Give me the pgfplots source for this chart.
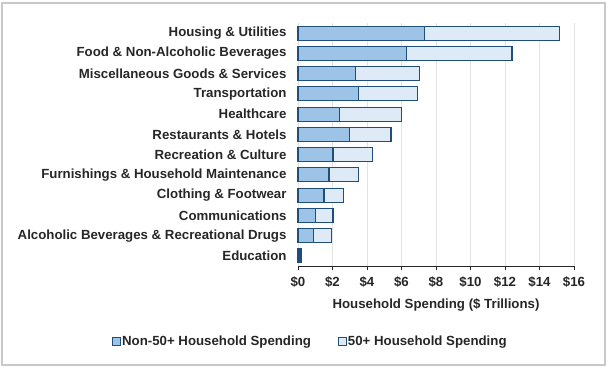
\documentclass[border=0pt]{standalone}
\usepackage{pgfplots}
\pgfplotsset{compat=1.18}
\usepackage{fontspec}
\setmainfont{Liberation Sans}
\definecolor{nonfifty}{HTML}{9DC3E6}
\definecolor{fifty}{HTML}{DEEBF7}
\definecolor{edge}{HTML}{1F4E79}
\definecolor{gridc}{HTML}{E3E3E3}
\definecolor{framec}{HTML}{C8C8C8}
\begin{document}
\begin{tikzpicture}[x=1bp,y=1bp]
\begin{axis}[
  scale only axis,
  width=276bp, height=243bp,
  xbar stacked,
  bar width=14bp,
  xmin=0, xmax=16,
  ymin=-0.5, ymax=11.5,
  y dir=reverse,
  ytick={0,...,11},
  yticklabels={Housing \& Utilities, Food \& Non-Alcoholic Beverages, Miscellaneous Goods \& Services, Transportation, Healthcare, Restaurants \& Hotels, Recreation \& Culture, Furnishings \& Household Maintenance, Clothing \& Footwear, Communications, Alcoholic Beverages \& Recreational Drugs, Education},
  xtick={0,2,...,16},
  xticklabels={\$0,\$2,\$4,\$6,\$8,\$10,\$12,\$14,\$16},
  axis y line*=none,
  axis x line*=bottom,
  axis line style={black!85, line width=0.9bp},
  y axis line style={draw=none},
  ytick style={draw=none},
  xtick style={black!85, line width=0.9bp},
  tick align=outside,
  major tick length=4bp,
  xmajorgrids,
  grid style={gridc, line width=0.8bp},
  ticklabel style={font=\bfseries\fontsize{13.3}{15}\selectfont, text=black!85},
  yticklabel style={xshift=-4bp},
  xticklabel style={yshift=-3bp},
  xlabel={Household Spending (\$ Trillions)},
  xlabel style={font=\bfseries\fontsize{13.3}{15}\selectfont, text=black!85, yshift=-4bp},
  legend style={draw=none, fill=none, at={(0.043,-0.309)}, anchor=center,
    legend columns=2, font=\bfseries\fontsize{13.3}{15}\selectfont, text=black!85,
    /tikz/every even column/.append style={column sep=26bp},
    inner sep=0pt, nodes={inner sep=1bp}},
  legend image code/.code={\draw[#1, line width=1bp] (0bp,-4bp) rectangle (8bp,4bp);},
  clip=false,
]
\addplot[fill=nonfifty, draw=edge, line width=1.2bp] coordinates {
(7.35,0) (6.31,1) (3.32,2) (3.51,3) (2.39,4) (2.97,5) (2.03,6) (1.80,7) (1.51,8) (1.00,9) (0.91,10) (0.10,11)};
\addplot[fill=fifty, draw=edge, line width=1.2bp] coordinates {
(7.80,0) (6.10,1) (3.71,2) (3.40,3) (3.61,4) (2.42,5) (2.29,6) (1.69,7) (1.11,8) (1.03,9) (1.02,10) (0.07,11)};
\legend{Non-50+ Household Spending, 50+ Household Spending}
\coordinate (sw) at (rel axis cs:0,0);
\coordinate (ne) at (rel axis cs:1,1);
\end{axis}
\draw[framec, line width=1.5bp] ([shift={(-296bp,-99bp)}]sw) rectangle ([shift={(31bp,20bp)}]ne);
\useasboundingbox ([shift={(-298bp,-103bp)}]sw) rectangle ([shift={(36bp,23bp)}]ne);
\end{tikzpicture}
\end{document}
